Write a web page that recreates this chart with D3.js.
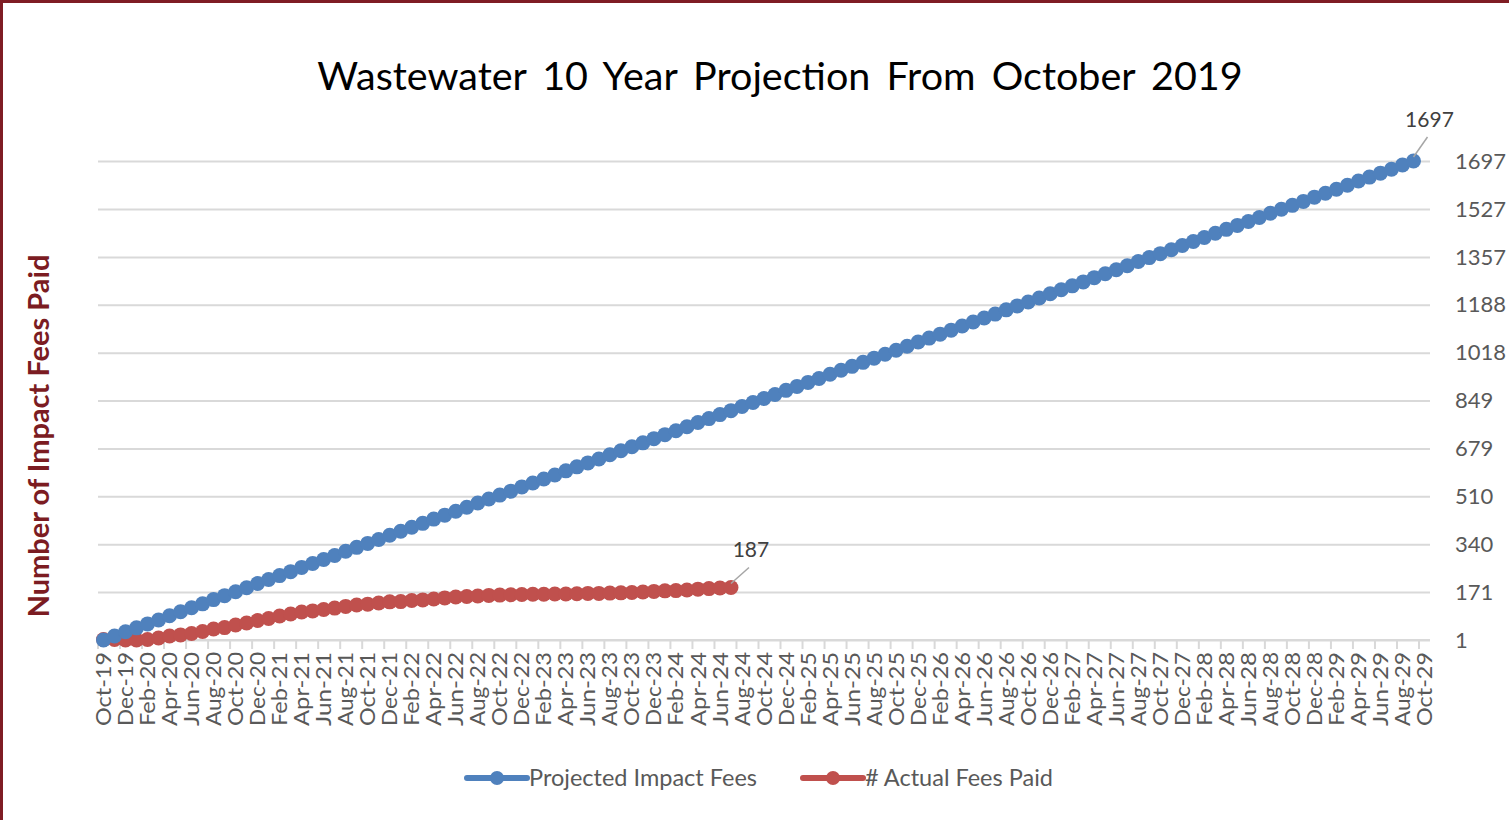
<!DOCTYPE html>
<html>
<head>
<meta charset="utf-8">
<script src="https://cdn.jsdelivr.net/npm/d3@7"></script>
<style>
  body { margin: 0; background: #fff; }
  svg { display: block; font-family: Lato, "Open Sans", sans-serif; }
</style>
</head>
<body>
<div id="chart"></div>
<script>
const categories = [
  'Oct-19','Nov-19','Dec-19','Jan-20','Feb-20','Mar-20','Apr-20','May-20','Jun-20','Jul-20','Aug-20','Sep-20',
  'Oct-20','Nov-20','Dec-20','Jan-21','Feb-21','Mar-21','Apr-21','May-21','Jun-21','Jul-21','Aug-21','Sep-21',
  'Oct-21','Nov-21','Dec-21','Jan-22','Feb-22','Mar-22','Apr-22','May-22','Jun-22','Jul-22','Aug-22','Sep-22',
  'Oct-22','Nov-22','Dec-22','Jan-23','Feb-23','Mar-23','Apr-23','May-23','Jun-23','Jul-23','Aug-23','Sep-23',
  'Oct-23','Nov-23','Dec-23','Jan-24','Feb-24','Mar-24','Apr-24','May-24','Jun-24','Jul-24','Aug-24','Sep-24',
  'Oct-24','Nov-24','Dec-24','Jan-25','Feb-25','Mar-25','Apr-25','May-25','Jun-25','Jul-25','Aug-25','Sep-25',
  'Oct-25','Nov-25','Dec-25','Jan-26','Feb-26','Mar-26','Apr-26','May-26','Jun-26','Jul-26','Aug-26','Sep-26',
  'Oct-26','Nov-26','Dec-26','Jan-27','Feb-27','Mar-27','Apr-27','May-27','Jun-27','Jul-27','Aug-27','Sep-27',
  'Oct-27','Nov-27','Dec-27','Jan-28','Feb-28','Mar-28','Apr-28','May-28','Jun-28','Jul-28','Aug-28','Sep-28',
  'Oct-28','Nov-28','Dec-28','Jan-29','Feb-29','Mar-29','Apr-29','May-29','Jun-29','Jul-29','Aug-29','Sep-29',
  'Oct-29'
]

// Projected Impact Fees (Oct-19 .. Sep-29)
const projected = [
  1, 15, 30, 44, 58, 72, 87, 101, 115, 129, 144, 158,
  172, 186, 201, 215, 229, 243, 258, 272, 286, 300, 315, 329,
  343, 357, 372, 386, 400, 414, 429, 443, 457, 471, 486, 500,
  514, 528, 543, 557, 571, 585, 600, 614, 628, 642, 657, 671,
  685, 699, 714, 728, 742, 756, 771, 785, 799, 813, 828, 842,
  856, 870, 885, 899, 913, 927, 942, 956, 970, 984, 999, 1013,
  1027, 1041, 1056, 1070, 1084, 1098, 1113, 1127, 1141, 1155, 1170, 1184,
  1198, 1212, 1227, 1241, 1255, 1269, 1284, 1298, 1312, 1326, 1341, 1355,
  1369, 1383, 1398, 1412, 1426, 1441, 1455, 1469, 1483, 1497, 1512, 1526,
  1540, 1554, 1569, 1583, 1597, 1611, 1626, 1640, 1654, 1668, 1683, 1697
]

// # Actual Fees Paid (Oct-19 .. Jul-24)
const actual = [
  3, 3, 1, 1, 3, 8, 15, 19, 24, 31, 40, 45,
  54, 61, 70, 77, 86, 93, 100, 104, 109, 114, 120, 125,
  128, 132, 136, 137, 141, 143, 146, 150, 153, 155, 157, 159,
  160, 161, 162, 163, 163, 164, 164, 165, 166, 166, 167, 168,
  169, 171, 173, 175, 176, 178, 181, 183, 185, 187
]

const yTickLabels = ['1', '171', '340', '510', '679', '849', '1018', '1188', '1357', '1527', '1697']

const seriesNames = ['Projected Impact Fees', '# Actual Fees Paid']
const colors = ['#4f81bd', '#c0504d']

const width = 1509, height = 820
const margin = ({ top: 161, right: 79, bottom: 180, left: 98 })

const svg = d3.select('#chart').append('svg')
    .attr('width', width)
    .attr('height', height)

// outer frame (top and left edges visible)
svg.append('path')
    .attr('d', `M1.5,${height} L1.5,1.5 L${width},1.5`)
    .attr('fill', 'none')
    .attr('stroke', '#7f1d24')
    .attr('stroke-width', 3)

const x = d3.scaleBand()
    .domain(categories)
    .range([margin.left, width - margin.right])
const y = d3.scaleLinear()
    .domain([1, 1697])
    .range([height - margin.bottom, margin.top])
const cx = d => x(d) + x.bandwidth() / 2

// gridlines
svg.append('g')
    .attr('class', 'grid')
    .attr('transform', `translate(${margin.left},0)`)
    .call(d3.axisLeft(y).tickValues(yTickLabels.map(Number)).tickSize(-(width - margin.right - margin.left)).tickFormat(''))
    .call(g => g.select('.domain').remove())
    .call(g => g.selectAll('line').attr('stroke', '#d9d9d9').attr('stroke-width', 2))

// right-side value labels
svg.append('g')
    .attr('transform', `translate(${width - 54},0)`)
    .call(d3.axisRight(y).tickValues(yTickLabels.map(Number)).tickSize(0).tickFormat((d, i) => yTickLabels[i]))
    .call(g => g.select('.domain').remove())
    .call(g => g.selectAll('text')
        .attr('x', 0)
        .attr('font-family', 'Lato, sans-serif')
        .attr('font-size', 22)
        .attr('fill', '#595959'))

// x axis: tick marks on category boundaries, labels at centres
const xAxisG = svg.append('g')
    .attr('transform', `translate(0,${height - margin.bottom})`)
xAxisG.append('line')
    .attr('x1', margin.left).attr('x2', width - margin.right)
    .attr('stroke', '#d9d9d9').attr('stroke-width', 2)
xAxisG.selectAll('.tick-mark')
    .data(categories.filter((d, i) => i % 2 === 0))
    .join('line')
    .attr('class', 'tick-mark')
    .attr('x1', d => x(d)).attr('x2', d => x(d))
    .attr('y1', 0).attr('y2', 9)
    .attr('stroke', '#d9d9d9').attr('stroke-width', 2)
xAxisG.selectAll('.tick-label')
    .data(categories.filter((d, i) => i % 2 === 0))
    .join('text')
    .attr('class', 'tick-label')
    .attr('transform', d => `translate(${cx(d)},12) rotate(-90)`)
    .attr('text-anchor', 'end')
    .attr('dy', '0.36em')
    .attr('font-size', 21)
    .attr('textLength', 74)
    .attr('lengthAdjust', 'spacingAndGlyphs')
    .attr('fill', '#595959')
    .text(d => d)

// series
const line = d3.line()
    .x((d, i) => cx(categories[i]))
    .y(d => y(d))

const series = [actual, projected]
const order = [1, 0]
series.forEach((vals, k) => {
    const s = order[k]
    const g = svg.append('g')
    g.append('path')
        .datum(vals)
        .attr('fill', 'none')
        .attr('stroke', colors[s])
        .attr('stroke-width', 6)
        .attr('stroke-linejoin', 'round')
        .attr('d', line)
    g.selectAll('circle')
        .data(vals)
        .join('circle')
        .attr('cx', (d, i) => cx(categories[i]))
        .attr('cy', d => y(d))
        .attr('r', 7.5)
        .attr('fill', colors[s])
})

// data labels on the last points
const lastLabels = [
    { vals: projected, dx: 14, dy: -24 },
    { vals: actual, dx: 18, dy: -20 }
]
lastLabels.forEach(l => {
    const i = l.vals.length - 1
    const px = cx(categories[i]), py = y(l.vals[i])
    svg.append('line')
        .attr('x1', px).attr('y1', py - 4)
        .attr('x2', px + l.dx).attr('y2', py + l.dy)
        .attr('stroke', '#a6a6a6').attr('stroke-width', 1.5)
    svg.append('text')
        .attr('x', px + l.dx + 2)
        .attr('y', py + l.dy - 10)
        .attr('text-anchor', 'middle')
        .attr('font-size', 21)
        .attr('fill', '#404040')
        .text(l.vals[i])
})

// title
svg.append('text')
    .attr('x', 780)
    .attr('y', 90)
    .attr('text-anchor', 'middle')
    .attr('font-size', 39.5)
    .attr('fill', '#000')
    .attr('word-spacing', 6)
    .text('Wastewater 10 Year Projection From October 2019')

// y-axis title
svg.append('text')
    .attr('transform', `translate(49,436) rotate(-90)`)
    .attr('text-anchor', 'middle')
    .attr('font-size', 29)
    .attr('font-weight', 'bold')
    .attr('fill', '#7b1c22')
    .text('Number of Impact Fees Paid')

// legend
const legend = svg.append('g')
    .attr('transform', 'translate(467,778)')
const legendX = [0, 336]
seriesNames.forEach((name, i) => {
    const g = legend.append('g').attr('transform', `translate(${legendX[i]},0)`)
    g.append('line')
        .attr('x1', 0).attr('x2', 60)
        .attr('stroke', colors[i]).attr('stroke-width', 6)
        .attr('stroke-linecap', 'round')
    g.append('circle').attr('cx', 30).attr('r', 7).attr('fill', colors[i])
    g.append('text')
        .attr('x', 62)
        .attr('dy', '0.35em')
        .attr('font-size', 23.5)
        .attr('fill', '#595959')
        .text(name)
})
</script>
</body>
</html>
